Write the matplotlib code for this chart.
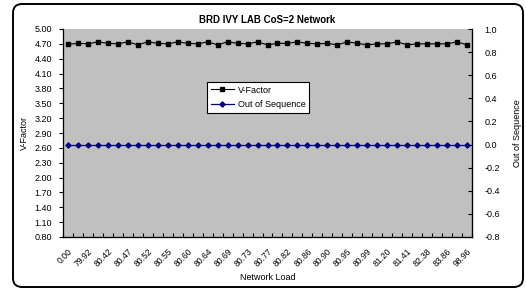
import matplotlib
matplotlib.use("Agg")
import matplotlib.pyplot as plt
import numpy as np
from matplotlib.patches import FancyBboxPatch
from matplotlib.transforms import IdentityTransform, ScaledTranslation

plt.rcParams['font.family'] = ['Liberation Sans', 'DejaVu Sans']
plt.rcParams['axes.unicode_minus'] = False

# network load labels (every other category is labelled)
load_labels = ['0.00', '79.92', '80.42', '80.47', '80.52', '80.55', '80.60',
               '80.64', '80.69', '80.73', '80.77', '80.82', '80.86', '80.90',
               '80.95', '80.99', '81.20', '81.41', '82.38', '83.86', '98.96']

v_factor = [4.69, 4.71, 4.70, 4.74, 4.71, 4.70, 4.74, 4.68, 4.74, 4.71,
            4.70, 4.74, 4.71, 4.70, 4.74, 4.68, 4.74, 4.71, 4.70, 4.74,
            4.68, 4.71, 4.71, 4.74, 4.71, 4.70, 4.71, 4.68, 4.74, 4.71,
            4.68, 4.70, 4.70, 4.74, 4.68, 4.70, 4.70, 4.70, 4.70, 4.74,
            4.68]
out_of_seq = [0] * 41

x = np.arange(len(v_factor))

fig = plt.figure(figsize=(5.26, 2.91), dpi=100)
ax = fig.add_axes([63/526, 1 - 237/291, (472-63)/526, (237-29)/291])
ax.set_facecolor('#c0c0c0')

# outer rounded border
border = FancyBboxPatch((13, 4), 510, 283, boxstyle="round,pad=0,rounding_size=9",
                        transform=IdentityTransform(), fill=False,
                        edgecolor='black', linewidth=1.4)
fig.patches.append(border)

l1, = ax.plot(x, v_factor, color='black', marker='s', markersize=3.2,
              linewidth=0.8, label='V-Factor')
ax.set_ylim(0.8, 5.0)
ax.set_yticks(np.round(np.arange(0.8, 5.01, 0.3), 2))
ax.yaxis.set_major_formatter(matplotlib.ticker.FormatStrFormatter('%.2f'))
ax.set_xlim(-0.5, len(x) - 0.5)
ax.set_xticks(x[::2])
ax.set_xticklabels(load_labels, rotation=45, ha='right', va='top',
                   rotation_mode='anchor')
shift = ScaledTranslation(-5/100, 0, fig.dpi_scale_trans)
for lab in ax.get_xticklabels():
    lab.set_transform(lab.get_transform() + shift)
ax.set_xticks(np.arange(-0.5, len(x)), minor=True)
ax.tick_params(axis='x', which='major', length=0, labelsize=6.2, pad=7)
ax.tick_params(axis='x', which='minor', direction='in', length=3, width=0.8)
ax.tick_params(axis='y', direction='out', length=3, width=0.8, labelsize=6.5, pad=5)
ax.set_ylabel('V-Factor', fontsize=6.5, labelpad=4)
ax.set_xlabel('Network Load', fontsize=6.5)
ax.xaxis.set_label_coords(0.5, (237 - 273) / 208)
ax.set_title('BRD IVY LAB CoS=2 Network', fontsize=7, fontweight='bold', pad=4)
for s in ['left', 'bottom']:
    ax.spines[s].set_linewidth(0.9)
ax.spines['top'].set_visible(False)

ax2 = ax.twinx()
l2, = ax2.plot(x, out_of_seq, color='#000080', marker='D', markersize=2.6,
               linewidth=0.9, label='Out of Sequence')
ax2.set_ylim(-0.8, 1.0)
ax2.set_yticks(np.arange(-0.8, 1.01, 0.2))
ax2.yaxis.set_major_formatter(
    matplotlib.ticker.FuncFormatter(lambda v, p: '%.1f' % (round(v, 1) + 0.0)))
ax2.tick_params(axis='y', direction='in', length=3, width=0.8, labelsize=6.5, pad=9)
ax2.set_ylabel('Out of Sequence', fontsize=6.5, labelpad=9)
ax2.spines['top'].set_visible(False)
ax2.spines['right'].set_linewidth(0.9)
ax2.spines['left'].set_visible(False)

leg = ax2.legend(handles=[l1, l2], loc='upper left',
                 bbox_to_anchor=((207-63)/409, (237-82)/208),
                 fontsize=6.5, frameon=True, fancybox=False, framealpha=1,
                 edgecolor='black', handlelength=2.6, borderpad=0.4,
                 labelspacing=0.6, handletextpad=0.4, borderaxespad=0)
leg.get_frame().set_linewidth(0.8)

fig.savefig('out.png', dpi=100)
